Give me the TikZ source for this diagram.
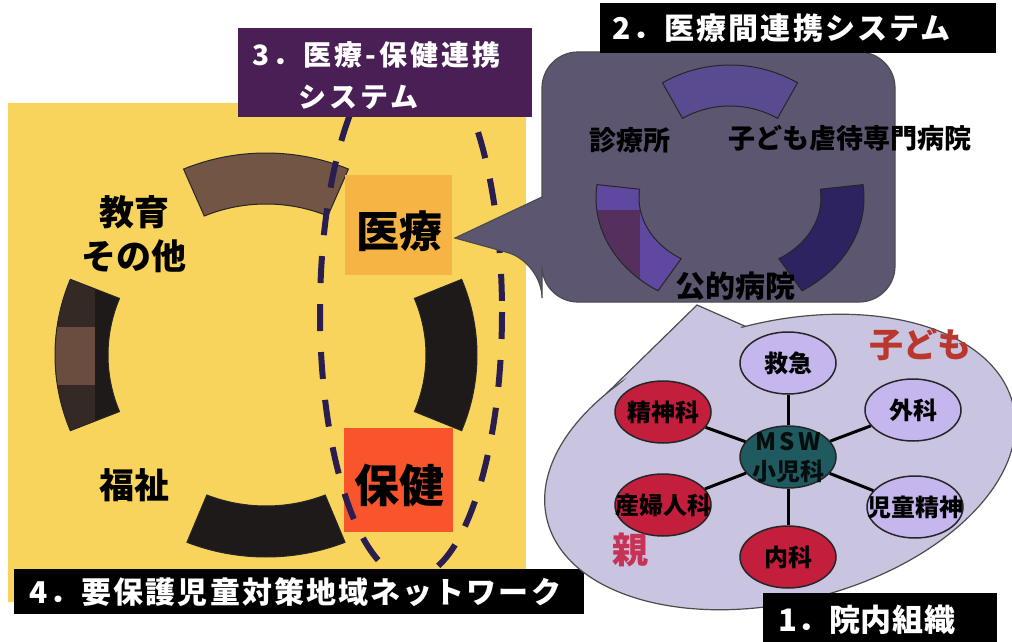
\documentclass[tikz,border=0pt]{standalone}
\usepackage{fontspec}
\setmainfont{Noto Sans CJK JP}
\usetikzlibrary{calc,shapes.geometric}
\definecolor{bgyellow}{HTML}{F8D45C}
\definecolor{labpurple}{HTML}{4A1F56}
\definecolor{calldark}{HTML}{5C5670}
\definecolor{arcbrown}{HTML}{735546}
\definecolor{arcblack}{HTML}{1E1A1A}
\definecolor{leftdark}{HTML}{342925}
\definecolor{patchbrown}{HTML}{6B4D3F}
\definecolor{dashnavy}{HTML}{2A1E50}
\definecolor{iryocol}{HTML}{F6B444}
\definecolor{hokencol}{HTML}{F8552C}
\definecolor{arcvA}{HTML}{5A4B91}
\definecolor{arcvB}{HTML}{5E48A0}
\definecolor{arcvBp}{HTML}{55305E}
\definecolor{arcvC}{HTML}{2D2360}
\definecolor{blobcol}{HTML}{C9C4E0}
\definecolor{lightnode}{HTML}{C6B6EE}
\definecolor{rednode}{HTML}{C31E3C}
\definecolor{hubteal}{HTML}{1F5A60}
\definecolor{kodomocol}{HTML}{B9372D}
\definecolor{oyacol}{HTML}{C83255}
\newcommand\labfont{\bfseries\fontsize{30}{34}\selectfont\addfontfeatures{LetterSpace=7}}
\newcommand\labfontC{\bfseries\fontsize{28}{32}\selectfont\addfontfeatures{LetterSpace=11}}
\newcommand\labfontA{\bfseries\fontsize{31}{34}\selectfont\addfontfeatures{LetterSpace=2}}
\newcommand\annsec[9]{\path[#1] (#2,#3) ++(#4:#6 and #7) arc[start angle=#4,end angle=#5,x radius=#6,y radius=#7] -- ($(#2,#3)+(#5:#8 and #9)$) arc[start angle=#5,end angle=#4,x radius=#8,y radius=#9] -- cycle;}
\begin{document}
\begin{tikzpicture}[x=1pt,y=-1pt,
  lab/.style={text=white,font=\labfont,inner sep=0,anchor=west},
  labbox/.style={inner sep=0,outer sep=0},
  dept/.style={ellipse,draw=black!85,line width=1.5,minimum width=96,minimum height=62,inner sep=0},
  depttxt/.style={font=\bfseries\fontsize{24}{26}\selectfont,inner sep=0},
  spoke/.style={line width=3,black},
  bigtxt/.style={font=\bfseries\fontsize{35}{44}\selectfont,align=center,inner sep=0},
  boxtxt/.style={font=\bfseries\fontsize{43}{46}\selectfont,inner sep=0},
  calltxt/.style={font=\bfseries\fontsize{27}{30}\selectfont,inner sep=0},
  arcline/.style={draw=black!85,line width=1}
]
\useasboundingbox (0,0) rectangle (1012,642);
\fill[white] (0,0) rectangle (1012,642);
% ---------- area 4 ----------
\fill[bgyellow] (8,103) rectangle (526,602);
\annsec{fill=arcbrown,arcline}{266}{355}{-113}{-67}{211}{202}{158}{151}
\begin{scope}
\annsec{clip}{266}{355}{158}{202}{211}{202}{158}{151}
\fill[arcblack] (40,260) rectangle (140,450);
\fill[leftdark] (40,260) rectangle (95,450);
\fill[patchbrown] (40,327) rectangle (95,385);
\end{scope}
\annsec{arcline}{266}{355}{158}{202}{211}{202}{158}{151}
\annsec{fill=arcblack,arcline}{266}{355}{-22}{22}{211}{202}{160}{151}
\annsec{fill=arcblack,arcline}{266}{355}{68}{112}{211}{202}{158}{151}
\node[labbox,fill=iryocol,minimum width=107,minimum height=100] (iryo) at (398.5,225) {};
\node[boxtxt] (iryot) at (399,231) {医療};
\node[labbox,fill=hokencol,minimum width=109,minimum height=104] (hoken) at (398.5,480) {};
\node[boxtxt,font=\bfseries\fontsize{45}{48}\selectfont] (hokent) at (399,485) {保健};
\node[bigtxt] (kyoiku) at (134,234) {教育\\その他};
\node[bigtxt] (fukushi) at (134,485) {福祉};
\draw[dashnavy,line width=6,dash pattern=on 27pt off 21pt] (411,312) ellipse[x radius=91,y radius=266];
\node[labbox,fill=labpurple,minimum width=294,minimum height=89] (l3box) at (385,72.5) {};
\node[lab,font=\labfontC] (l3a) at (252,55) {3．医療\kern3pt-\kern3pt保健連携};
\node[lab,font=\labfontC] (l3b) at (298,97) {システム};
\node[labbox,fill=black,minimum width=570,minimum height=45] (l4box) at (299,591.5) {};
\node[lab] (l4) at (29,592) {4．要保護児童対策地域ネットワーク};
% ---------- area 1 ----------
\draw[fill=blobcol,draw=black!70,line width=1.2] (697,305) -- (608,392) -- (765,335) -- cycle;
\draw[fill=blobcol,draw=black!70,line width=1.2,rotate around={14:(780,462)}] (780,462) ellipse[x radius=240,y radius=140];
\fill[blobcol] (697,309) -- (612,392) -- (761,336) -- cycle;
\node[dept,fill=hubteal] (hub) at (788,457) {};
\node[dept,fill=lightnode] (kyukyu) at (788,363) {};
\node[dept,fill=lightnode] (geka) at (913,410) {};
\node[dept,fill=lightnode] (jido) at (915,507) {};
\node[dept,fill=rednode] (naika) at (788,557) {};
\node[dept,fill=rednode] (sanfu) at (663,505) {};
\node[dept,fill=rednode] (seishin) at (663,412) {};
\foreach \n in {kyukyu,geka,jido,naika,sanfu,seishin} \draw[spoke] (hub) -- (\n);
\node[depttxt] (kyukyut) at (kyukyu) {救急};
\node[depttxt] (gekat) at (geka) {外科};
\node[depttxt] (jidot) at (jido) {児童精神};
\node[depttxt] (naikat) at (naika) {内科};
\node[depttxt] (sanfut) at (sanfu) {産婦人科};
\node[depttxt] (seishint) at (seishin) {精神科};
\node[depttxt,text=black!85!hubteal,align=center,font=\bfseries\fontsize{24}{30}\selectfont] (hubt) at (788,458) {{\addfontfeatures{LetterSpace=14}MSW}\\小児科};
\node[font=\bfseries\fontsize{34}{36}\selectfont,text=kodomocol,inner sep=0] (kodomo) at (920,345) {子ども};
\node[font=\bfseries\fontsize{36}{38}\selectfont,text=oyacol,inner sep=0] (oya) at (630,550) {親};
% ---------- area 2 ----------
\draw[fill=calldark,draw=black!70,line width=1.2,rounded corners=36] (700,52) -- (895,52) -- (895,302) -- (542,302) -- (542,262) [sharp corners] -- (455,238) -- (542,197) [rounded corners=36] -- (542,52) -- cycle;
\annsec{fill=arcvA,arcline}{730}{198}{-120}{-60}{135}{133}{95}{92}
\begin{scope}
\annsec{clip}{730}{198}{122.5}{187}{134}{110}{91}{72}
\fill[arcvB] (590,180) rectangle (700,300);
\fill[arcvBp] (590,210) rectangle (640,300);
\end{scope}
\annsec{arcline}{730}{198}{122.5}{187}{134}{110}{91}{72}
\annsec{fill=arcvC,arcline}{730}{198}{-7}{57.5}{134}{110}{91}{72}
\node[calltxt] (shinryo) at (630,140) {診療所};
\node[calltxt] (senmon) at (850,138) {子ども虐待専門病院};
\node[calltxt,font=\bfseries\fontsize{30}{32}\selectfont] (koteki) at (735,286) {公的病院};
\node[labbox,fill=black,minimum width=396,minimum height=50] (l2box) at (798,28) {};
\node[lab] (l2) at (612,28) {2．医療間連携システム};
% ---------- label 1 ----------
\node[labbox,fill=black,minimum width=234,minimum height=52] (l1box) at (880,619) {};
\node[lab,font=\labfontA] (l1) at (778,620) {1．院内組織};
\end{tikzpicture}
\end{document}
